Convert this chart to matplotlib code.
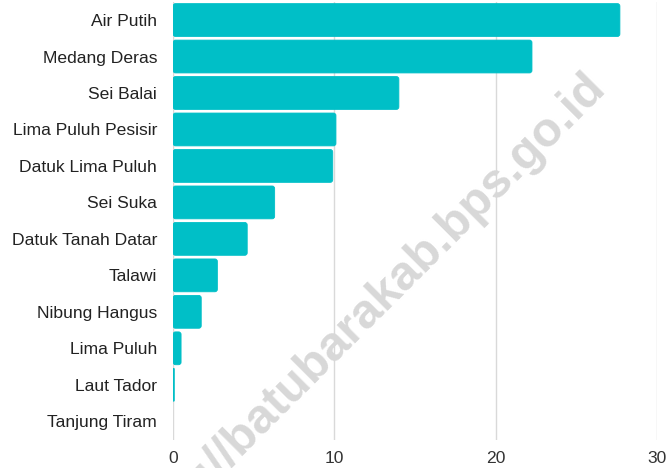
import matplotlib
matplotlib.use("Agg")
import matplotlib.pyplot as plt
from matplotlib.patches import FancyBboxPatch

categories = ["Air Putih", "Medang Deras", "Sei Balai", "Lima Puluh Pesisir",
              "Datuk Lima Puluh", "Sei Suka", "Datuk Tanah Datar", "Talawi",
              "Nibung Hangus", "Lima Puluh", "Laut Tador", "Tanjung Tiram"]
values = [27.7, 22.25, 14.0, 10.1, 9.9, 6.3, 4.6, 2.75, 1.75, 0.5, 0.08, 0.0]
xticks = [0, 10, 20, 30]

plt.rcParams['font.family'] = ['Liberation Sans', 'DejaVu Sans']

fig = plt.figure(figsize=(6.69, 4.68), dpi=100)
ax = fig.add_axes([173/669, 1 - 439.5/468, (657-173)/669, (439.5-1.8)/468])

y = list(range(len(categories)))
bars = ax.barh(y, values, height=0.9, color='#00BFC7', zorder=3)
# replace plain rectangles with slightly rounded ones
for b in bars:
    b.set_visible(False)
    w, h = b.get_width(), b.get_height()
    if w <= 0:
        continue
    r = min(0.155, w / 2)
    p = FancyBboxPatch((b.get_x(), b.get_y()), w, h,
                       boxstyle=f"round,pad=0,rounding_size={r}",
                       mutation_aspect=0.44, facecolor='#00BFC7',
                       edgecolor='#00BFC7', linewidth=0.6, zorder=3)
    ax.add_patch(p)

ax.set_ylim(len(categories) - 0.5, -0.5)
ax.set_xlim(0, 30)
ax.set_yticks(y)
ax.set_yticklabels(categories, fontsize=12.6, color='#222222')
ax.set_xticks(xticks)
ax.set_xticklabels([str(t) for t in xticks], fontsize=12.6, color='#333333')
ax.tick_params(axis='both', length=0)
ax.tick_params(axis='y', pad=11.5)
ax.tick_params(axis='x', pad=8)
for s in ax.spines.values():
    s.set_visible(False)
ax.grid(axis='x', color='#D9D9D9', linewidth=1, zorder=0)
ax.set_axisbelow(True)

fig.text(357/669, 1 - 320/468, "https://batubarakab.bps.go.id", rotation=45,
         rotation_mode='anchor', ha='center', va='center', fontsize=35,
         fontweight='bold', color='#D8D8D8', zorder=1)

fig.savefig("out.png", dpi=100)
